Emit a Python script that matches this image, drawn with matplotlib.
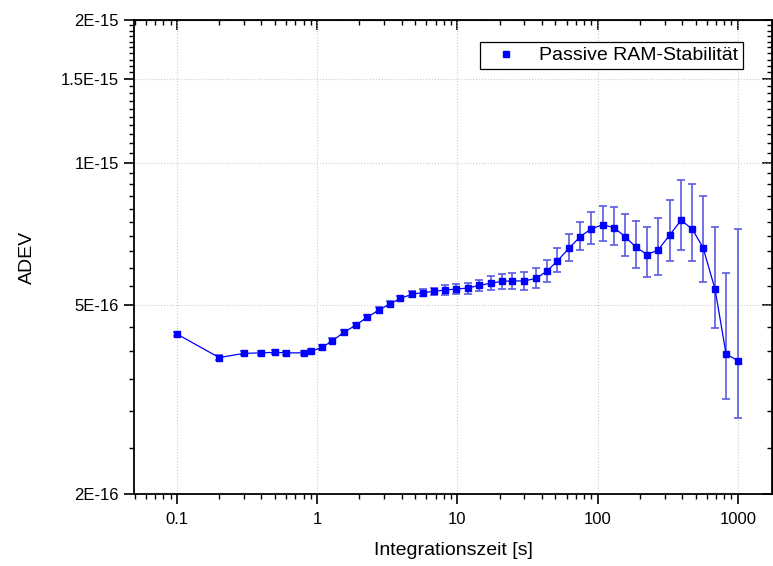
import numpy as np
import matplotlib
matplotlib.use("Agg")
import matplotlib.pyplot as plt
import matplotlib.ticker as mticker
from matplotlib.lines import Line2D

plt.rcParams["font.family"] = ["Liberation Sans", "DejaVu Sans"]

# integration time [s] and Allan deviation (units of 1e-16)
tau = [0.1, 0.2, 0.3, 0.4, 0.5, 0.6, 0.8, 0.9,
       1.09, 1.28, 1.56, 1.90, 2.27, 2.77, 3.31, 3.91, 4.75, 5.69, 6.82, 8.17,
       9.79, 11.9, 14.3, 17.4, 20.8, 24.5, 29.9, 36.4, 43.6, 51.4, 62.5, 75,
       89.8, 109, 131, 157, 188, 225, 269, 328, 393, 471, 564, 687, 823, 1000]
adev = [4.35, 3.88, 3.96, 3.97, 3.98, 3.97, 3.97, 4.00,
        4.08, 4.21, 4.39, 4.55, 4.72, 4.89, 5.04, 5.17, 5.28, 5.32, 5.35, 5.39,
        5.41, 5.44, 5.51, 5.57, 5.62, 5.63, 5.63, 5.70, 5.91, 6.20, 6.60, 6.98,
        7.25, 7.40, 7.29, 6.98, 6.63, 6.40, 6.54, 7.05, 7.56, 7.25, 6.62, 5.41,
        3.95, 3.82]
err_lo = [0.05, 0.04, 0.04, 0.04, 0.04, 0.04, 0.04, 0.04,
          0.05, 0.05, 0.05, 0.05, 0.06, 0.06, 0.06, 0.07, 0.08, 0.09, 0.10, 0.12,
          0.13, 0.145, 0.155, 0.19, 0.21, 0.225, 0.24, 0.25, 0.30, 0.33, 0.40, 0.45,
          0.50, 0.56, 0.60, 0.63, 0.64, 0.67, 0.74, 0.84, 1.01, 1.04, 1.03, 0.92,
          0.78, 0.92]
err_hi = [0.05, 0.04, 0.04, 0.04, 0.04, 0.04, 0.04, 0.04,
          0.05, 0.05, 0.05, 0.05, 0.06, 0.06, 0.06, 0.07, 0.08, 0.09, 0.10, 0.12,
          0.13, 0.145, 0.155, 0.19, 0.21, 0.225, 0.24, 0.30, 0.32, 0.40, 0.46, 0.53,
          0.62, 0.71, 0.77, 0.82, 0.90, 0.93, 1.10, 1.28, 1.65, 1.77, 1.88, 1.90,
          1.89, 3.43]

y_major = [2e-16, 5e-16, 1e-15, 1.5e-15, 2e-15]
y_major_labels = ["2E-16", "5E-16", "1E-15", "1.5E-15", "2E-15"]
x_major = [0.1, 1, 10, 100, 1000]
x_major_labels = ["0.1", "1", "10", "100", "1000"]

scale = 1e-16
y = np.array(adev) * scale
yerr = [np.array(err_lo) * scale, np.array(err_hi) * scale]
y_minor = np.arange(2e-16, 2.01e-15, 0.5e-16)

fig = plt.figure(figsize=(7.73, 5.66), dpi=100)
ax = fig.add_axes([134 / 773, 72 / 566, 638 / 773, 474 / 566])

ax.errorbar(tau, y, yerr=yerr, fmt="none", ecolor="#5a5ae2", elinewidth=1.2,
            capsize=2.6, capthick=1.2, zorder=2)
ax.plot(tau, y, "-", color="#0000ff", lw=0.9, marker="s", ms=4.4,
        mec="#0000ff", mfc="#0000ff", zorder=3)

ax.set_xscale("log")
ax.set_yscale("log")
ax.set_xlim(0.0494, 1750)
ax.set_ylim(2e-16, 2e-15)

ax.xaxis.set_major_locator(mticker.FixedLocator(x_major))
ax.xaxis.set_major_formatter(mticker.FixedFormatter(x_major_labels))
ax.xaxis.set_minor_locator(mticker.LogLocator(base=10, subs=np.arange(2, 10)))
ax.xaxis.set_minor_formatter(mticker.NullFormatter())

ax.yaxis.set_major_locator(mticker.FixedLocator(y_major))
ax.yaxis.set_major_formatter(mticker.FixedFormatter(y_major_labels))
ax.yaxis.set_minor_locator(mticker.FixedLocator(y_minor))
ax.yaxis.set_minor_formatter(mticker.NullFormatter())

ax.tick_params(which="major", direction="out", length=7, width=1.2, labelsize=12, pad=4)
ax.tick_params(which="minor", direction="out", length=3.6, width=1.0)
ax.tick_params(axis="x", pad=6)

for s in ax.spines.values():
    s.set_linewidth(1.3)

# mirrored ticks on top and right, pointing inward
top = ax.secondary_xaxis("top")
top.set_xscale("log")
top.xaxis.set_major_locator(mticker.FixedLocator(x_major))
top.xaxis.set_minor_locator(mticker.LogLocator(base=10, subs=np.arange(2, 10)))
top.tick_params(which="major", direction="in", length=7, width=1.2, labeltop=False)
top.tick_params(which="minor", direction="in", length=3.6, width=1.0)
top.xaxis.set_major_formatter(mticker.NullFormatter())
top.xaxis.set_minor_formatter(mticker.NullFormatter())

right = ax.secondary_yaxis("right")
right.set_yscale("log")
right.yaxis.set_major_locator(mticker.FixedLocator(y_major))
right.yaxis.set_minor_locator(mticker.FixedLocator(y_minor))
right.tick_params(which="major", direction="in", length=7, width=1.2, labelright=False)
right.tick_params(which="minor", direction="in", length=3.6, width=1.0)
right.yaxis.set_major_formatter(mticker.NullFormatter())
right.yaxis.set_minor_formatter(mticker.NullFormatter())

ax.grid(True, which="major", color="#cccccc", ls=":", lw=0.8)
ax.set_axisbelow(True)

ax.set_xlabel("Integrationszeit [s]", fontsize=14, labelpad=11)
ax.set_ylabel("ADEV", fontsize=14, labelpad=18)

handle = Line2D([], [], marker="s", ls="none", color="#0000ff", ms=4.4)
leg = ax.legend([handle], ["Passive RAM-Stabilität"], loc="upper right",
                bbox_to_anchor=(743 / 773, 1 - 42 / 566), bbox_transform=fig.transFigure,
                borderaxespad=0, fontsize=14, frameon=True, fancybox=False,
                edgecolor="black", framealpha=1, borderpad=0.25,
                handlelength=2.2, handletextpad=0.6)
leg.get_frame().set_linewidth(0.9)

fig.savefig("out.png", dpi=100)
